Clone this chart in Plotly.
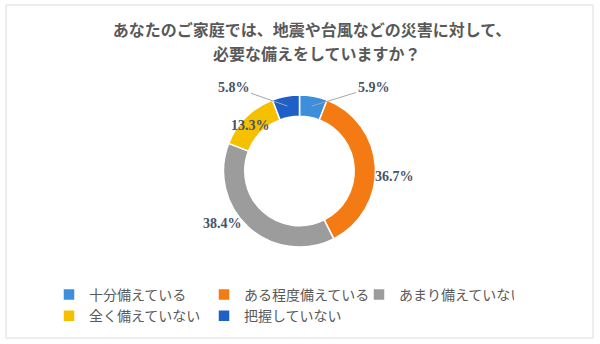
import math
import plotly.graph_objects as go

# Survey answers (clockwise from 12 o'clock)
categories = ["十分備えている", "ある程度備えている", "あまり備えていない", "全く備えていない", "把握していない"]
shares = [5.9, 36.7, 38.4, 13.3, 5.8]
colors = ["#3d8fdc", "#f47a14", "#9c9c9c", "#f5c000", "#1f5fc8"]
title_line1 = "あなたのご家庭では、地震や台風などの災害に対して、"
title_line2 = "必要な備えをしていますか？"

W, H = 600, 344
ML, MR = 50, 50
PW = W - ML - MR

# donut geometry in pixels
CX, CY, R = 299.5, 171.0, 76.0


def to_paper(px, py):
    return (px - ML) / PW, (H - py) / H


x0, y0 = to_paper(CX - R, CY + R)
x1, y1 = to_paper(CX + R, CY - R)

fig = go.Figure(
    go.Pie(
        labels=categories,
        values=shares,
        hole=0.72,
        sort=False,
        direction="clockwise",
        rotation=0,
        marker=dict(colors=colors, line=dict(color="white", width=1.5)),
        textinfo="none",
        domain=dict(x=[x0, x1], y=[y0, y1]),
        hoverinfo="label+value",
    )
)

# value labels placed around slice mid-angles: (radius, nudge x, nudge y, leader line)
label_style = [
    (66, 62, -19, True),
    (95, 0, 10, False),
    (92, -15, -16, False),
    (69, 0, 3, False),
    (66, -54, -19, True),
]

total = sum(shares)
cum = 0.0
annotations = []
for val, (rad, nx, ny, leader) in zip(shares, label_style):
    mid = (cum + val / 2) / total * 2 * math.pi
    cum += val
    px = CX + rad * math.sin(mid)
    py = CY - rad * math.cos(mid)
    text = f"{val:.1f}%"
    font = dict(family="Liberation Serif", size=14, color="#44546a", weight=700)
    if leader:
        ax_, ay_ = to_paper(px, py)
        annotations.append(dict(
            x=ax_, y=ay_, xref="paper", yref="paper", text=text, font=font,
            showarrow=True, arrowhead=0, arrowwidth=1, arrowcolor="#a6a6a6",
            ax=nx, ay=ny, standoff=0, startstandoff=0,
        ))
    else:
        tx, ty = to_paper(px + nx, py + ny)
        annotations.append(dict(
            x=tx, y=ty, xref="paper", yref="paper", text=text, font=font,
            showarrow=False, xanchor="center", yanchor="middle",
        ))

title_font = dict(family="Noto Sans CJK JP", size=16, color="#595959", weight=700)

# second line of the heading
t2x, t2y = to_paper(317, 53)
annotations.append(dict(
    x=t2x, y=t2y, xref="paper", yref="paper", text=title_line2, font=title_font,
    showarrow=False, xanchor="center", yanchor="middle",
))

# light frame around the chart
bx0, by0 = to_paper(6, 338)
bx1, by1 = to_paper(593, 5)

fig.update_layout(
    width=W,
    height=H,
    margin=dict(l=ML, r=MR, t=0, b=0, autoexpand=False),
    paper_bgcolor="white",
    plot_bgcolor="white",
    title=dict(
        text=title_line1,
        x=0.52, xref="container", xanchor="center",
        y=1 - 30 / H, yref="container", yanchor="middle",
        font=title_font,
    ),
    showlegend=True,
    legend=dict(
        orientation="h",
        xref="container", yref="container",
        x=49 / W, xanchor="left",
        y=1 - 279 / H, yanchor="top",
        entrywidth=110, entrywidthmode="pixels",
        font=dict(family="Noto Sans CJK JP", size=14, color="#595959"),
        traceorder="normal",
    ),
    annotations=annotations,
    shapes=[dict(type="rect", xref="paper", yref="paper",
                 x0=bx0, y0=by0, x1=bx1, y1=by1,
                 line=dict(color="#dcdcdc", width=1), layer="below")],
)

fig.write_html("out.html")
